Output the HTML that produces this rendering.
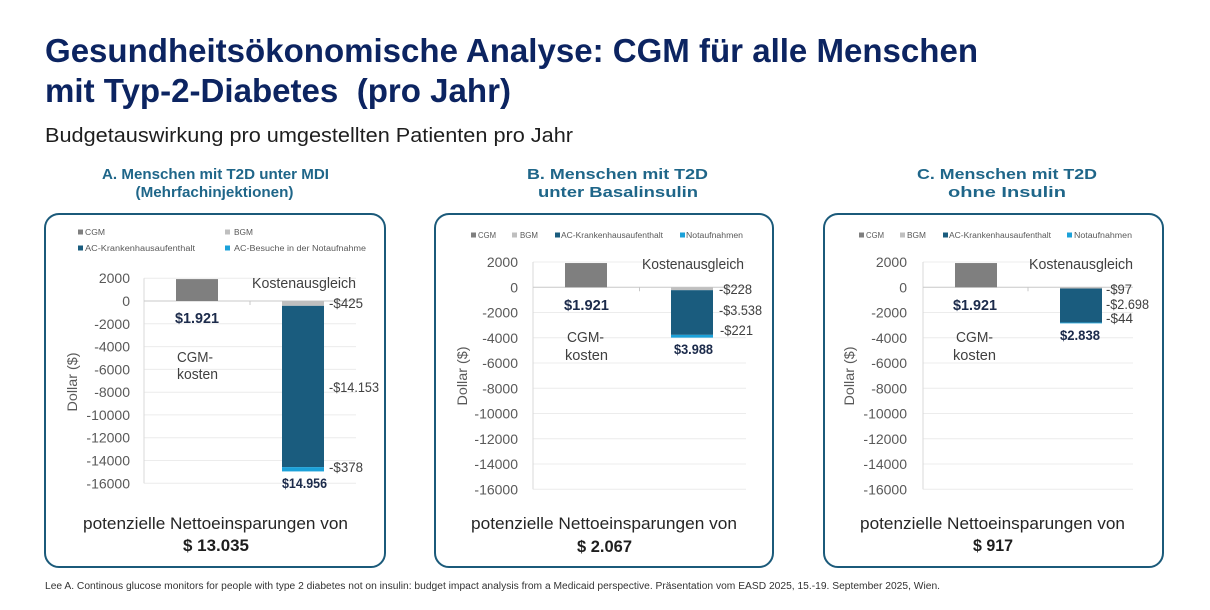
<!DOCTYPE html>
<html>
<head>
<meta charset="utf-8">
<style>
  html,body{margin:0;padding:0;background:#fff;}
  svg{display:block;}
  text{font-family:"Liberation Sans", sans-serif;}
</style>
</head>
<body>
<svg width="1210" height="610" viewBox="0 0 1210 610" xmlns="http://www.w3.org/2000/svg">
  <rect x="0" y="0" width="1210" height="610" fill="#ffffff"/>

  <!-- Titles -->
  <text x="45" y="62" font-size="33" font-weight="bold" fill="#0c2461" textLength="933" lengthAdjust="spacingAndGlyphs">Gesundheitsökonomische Analyse: CGM für alle Menschen</text>
  <text x="45" y="102" font-size="33" font-weight="bold" fill="#0c2461" textLength="466" lengthAdjust="spacingAndGlyphs" xml:space="preserve">mit Typ-2-Diabetes  (pro Jahr)</text>
  <text x="45" y="142" font-size="20" fill="#1e1e1e" textLength="528" lengthAdjust="spacingAndGlyphs">Budgetauswirkung pro umgestellten Patienten pro Jahr</text>

  <!-- Panel titles -->
  <g font-size="15" font-weight="bold" fill="#1f6689" text-anchor="middle">
    <text x="215.5" y="179" textLength="227" lengthAdjust="spacingAndGlyphs">A. Menschen mit T2D unter MDI</text>
    <text x="214.5" y="197" textLength="158" lengthAdjust="spacingAndGlyphs">(Mehrfachinjektionen)</text>
    <text x="617.5" y="179" textLength="181" lengthAdjust="spacingAndGlyphs">B. Menschen mit T2D</text>
    <text x="618" y="197" textLength="160" lengthAdjust="spacingAndGlyphs">unter Basalinsulin</text>
    <text x="1007" y="179" textLength="180" lengthAdjust="spacingAndGlyphs">C. Menschen mit T2D</text>
    <text x="1007" y="197" textLength="118" lengthAdjust="spacingAndGlyphs">ohne Insulin</text>
  </g>

  <!-- Boxes -->
  <rect x="45" y="214" width="340" height="353" rx="14" ry="14" fill="none" stroke="#1b5a7a" stroke-width="2"/>
  <rect x="435" y="214" width="338" height="353" rx="14" ry="14" fill="none" stroke="#1b5a7a" stroke-width="2"/>
  <rect x="824" y="214" width="339" height="353" rx="14" ry="14" fill="none" stroke="#1b5a7a" stroke-width="2"/>

  <!-- ================= PANEL A ================= -->
  <g font-size="8" fill="#595959">
    <rect x="78" y="229.5" width="5" height="5" fill="#7f7f7f"/>
    <text x="85" y="235" textLength="20" lengthAdjust="spacingAndGlyphs">CGM</text>
    <rect x="225" y="229.5" width="5" height="5" fill="#bfbfbf"/>
    <text x="234" y="235" textLength="19" lengthAdjust="spacingAndGlyphs">BGM</text>
    <rect x="78" y="245.5" width="5" height="5" fill="#1a5c7e"/>
    <text x="85" y="251" textLength="110" lengthAdjust="spacingAndGlyphs">AC-Krankenhausaufenthalt</text>
    <rect x="225" y="245.5" width="5" height="5" fill="#1ba1d9"/>
    <text x="234" y="251" textLength="132" lengthAdjust="spacingAndGlyphs">AC-Besuche in der Notaufnahme</text>
  </g>
  <g stroke="#ececec" stroke-width="1">
    <line x1="144" x2="356" y1="278.2" y2="278.2"/>
    <line x1="144" x2="356" y1="323.8" y2="323.8"/>
    <line x1="144" x2="356" y1="346.6" y2="346.6"/>
    <line x1="144" x2="356" y1="369.4" y2="369.4"/>
    <line x1="144" x2="356" y1="392.2" y2="392.2"/>
    <line x1="144" x2="356" y1="414.9" y2="414.9"/>
    <line x1="144" x2="356" y1="437.7" y2="437.7"/>
    <line x1="144" x2="356" y1="460.5" y2="460.5"/>
    <line x1="144" x2="356" y1="483.3" y2="483.3"/>
  </g>
  <line x1="144" x2="144" y1="278.2" y2="483.3" stroke="#d9d9d9" stroke-width="1"/>
  <line x1="144" x2="356" y1="301" y2="301" stroke="#c8c8c8" stroke-width="1"/>
  <line x1="250" x2="250" y1="301" y2="305" stroke="#c8c8c8" stroke-width="1"/>
  <g font-size="14" fill="#595959" text-anchor="end">
    <text x="130" y="283.2">2000</text>
    <text x="130" y="306">0</text>
    <text x="130" y="328.8">-2000</text>
    <text x="130" y="351.6">-4000</text>
    <text x="130" y="374.4">-6000</text>
    <text x="130" y="397.2">-8000</text>
    <text x="130" y="419.9">-10000</text>
    <text x="130" y="442.7">-12000</text>
    <text x="130" y="465.5">-14000</text>
    <text x="130" y="488.3">-16000</text>
  </g>
  <text x="0" y="0" font-size="14" fill="#595959" text-anchor="middle" transform="translate(77,382) rotate(-90)" textLength="59" lengthAdjust="spacingAndGlyphs">Dollar ($)</text>
  <rect x="176" y="279.1" width="42" height="21.9" fill="#7f7f7f"/>
  <rect x="282" y="301" width="42" height="4.84" fill="#bfbfbf"/>
  <rect x="282" y="305.84" width="42" height="161.27" fill="#1a5c7e"/>
  <rect x="282" y="467.11" width="42" height="4.31" fill="#1ba1d9"/>
  <text x="197" y="323" font-size="15" font-weight="bold" fill="#1c2b4b" text-anchor="middle" textLength="44" lengthAdjust="spacingAndGlyphs">$1.921</text>
  <g font-size="15" fill="#404040">
    <text x="195" y="362" text-anchor="middle" textLength="36" lengthAdjust="spacingAndGlyphs">CGM-</text>
    <text x="197.5" y="379" text-anchor="middle" textLength="41" lengthAdjust="spacingAndGlyphs">kosten</text>
    <text x="252" y="288" textLength="104" lengthAdjust="spacingAndGlyphs">Kostenausgleich</text>
  </g>
  <g font-size="14" fill="#404040">
    <text x="329" y="308" textLength="34" lengthAdjust="spacingAndGlyphs">-$425</text>
    <text x="329" y="392" textLength="50" lengthAdjust="spacingAndGlyphs">-$14.153</text>
    <text x="329" y="472" textLength="34" lengthAdjust="spacingAndGlyphs">-$378</text>
  </g>
  <text x="304.5" y="488" font-size="14" font-weight="bold" fill="#1c2b4b" text-anchor="middle" textLength="45" lengthAdjust="spacingAndGlyphs">$14.956</text>
  <text x="215.5" y="529" font-size="17" fill="#262626" text-anchor="middle" textLength="265" lengthAdjust="spacingAndGlyphs">potenzielle Nettoeinsparungen von</text>
  <text x="216" y="551" font-size="17" font-weight="bold" fill="#1e1e1e" text-anchor="middle" textLength="66" lengthAdjust="spacingAndGlyphs">$ 13.035</text>

  <!-- ================= PANEL B ================= -->
  <g font-size="8" fill="#595959">
    <rect x="471" y="232.5" width="5" height="5" fill="#7f7f7f"/>
    <text x="478" y="238" textLength="18" lengthAdjust="spacingAndGlyphs">CGM</text>
    <rect x="512" y="232.5" width="5" height="5" fill="#bfbfbf"/>
    <text x="520" y="238" textLength="18" lengthAdjust="spacingAndGlyphs">BGM</text>
    <rect x="555" y="232.5" width="5" height="5" fill="#1a5c7e"/>
    <text x="561" y="238" textLength="102" lengthAdjust="spacingAndGlyphs">AC-Krankenhausaufenthalt</text>
    <rect x="680" y="232.5" width="5" height="5" fill="#1ba1d9"/>
    <text x="686" y="238" textLength="57" lengthAdjust="spacingAndGlyphs">Notaufnahmen</text>
  </g>
  <g stroke="#ececec" stroke-width="1">
    <line x1="533" x2="746" y1="262.05" y2="262.05"/>
    <line x1="533" x2="746" y1="312.55" y2="312.55"/>
    <line x1="533" x2="746" y1="337.8" y2="337.8"/>
    <line x1="533" x2="746" y1="363.05" y2="363.05"/>
    <line x1="533" x2="746" y1="388.3" y2="388.3"/>
    <line x1="533" x2="746" y1="413.55" y2="413.55"/>
    <line x1="533" x2="746" y1="438.8" y2="438.8"/>
    <line x1="533" x2="746" y1="464.05" y2="464.05"/>
    <line x1="533" x2="746" y1="489.3" y2="489.3"/>
  </g>
  <line x1="533" x2="533" y1="262.05" y2="489.3" stroke="#d9d9d9" stroke-width="1"/>
  <line x1="533" x2="746" y1="287.3" y2="287.3" stroke="#c8c8c8" stroke-width="1"/>
  <line x1="639.5" x2="639.5" y1="287.3" y2="291.3" stroke="#c8c8c8" stroke-width="1"/>
  <g font-size="14" fill="#595959" text-anchor="end">
    <text x="518" y="267">2000</text>
    <text x="518" y="292.3">0</text>
    <text x="518" y="317.5">-2000</text>
    <text x="518" y="342.8">-4000</text>
    <text x="518" y="368">-6000</text>
    <text x="518" y="393.3">-8000</text>
    <text x="518" y="418.5">-10000</text>
    <text x="518" y="443.8">-12000</text>
    <text x="518" y="469">-14000</text>
    <text x="518" y="494.3">-16000</text>
  </g>
  <text x="0" y="0" font-size="14" fill="#595959" text-anchor="middle" transform="translate(467,376) rotate(-90)" textLength="59" lengthAdjust="spacingAndGlyphs">Dollar ($)</text>
  <rect x="565" y="263.05" width="42" height="24.25" fill="#7f7f7f"/>
  <rect x="671" y="287.3" width="42" height="2.88" fill="#bfbfbf"/>
  <rect x="671" y="290.18" width="42" height="44.67" fill="#1a5c7e"/>
  <rect x="671" y="334.85" width="42" height="2.79" fill="#1ba1d9"/>
  <text x="586.5" y="310" font-size="15" font-weight="bold" fill="#1c2b4b" text-anchor="middle" textLength="45" lengthAdjust="spacingAndGlyphs">$1.921</text>
  <g font-size="15" fill="#404040">
    <text x="585.5" y="342" text-anchor="middle" textLength="37" lengthAdjust="spacingAndGlyphs">CGM-</text>
    <text x="586.5" y="360" text-anchor="middle" textLength="43" lengthAdjust="spacingAndGlyphs">kosten</text>
    <text x="642" y="269" textLength="102" lengthAdjust="spacingAndGlyphs">Kostenausgleich</text>
  </g>
  <g font-size="14" fill="#404040">
    <text x="719" y="294" textLength="33" lengthAdjust="spacingAndGlyphs">-$228</text>
    <text x="719" y="315" textLength="43" lengthAdjust="spacingAndGlyphs">-$3.538</text>
    <text x="720" y="335" textLength="33" lengthAdjust="spacingAndGlyphs">-$221</text>
  </g>
  <text x="693.5" y="354" font-size="14" font-weight="bold" fill="#1c2b4b" text-anchor="middle" textLength="39" lengthAdjust="spacingAndGlyphs">$3.988</text>
  <text x="604" y="529" font-size="17" fill="#262626" text-anchor="middle" textLength="266" lengthAdjust="spacingAndGlyphs">potenzielle Nettoeinsparungen von</text>
  <text x="604.5" y="552" font-size="17" font-weight="bold" fill="#1e1e1e" text-anchor="middle" textLength="55" lengthAdjust="spacingAndGlyphs">$ 2.067</text>

  <!-- ================= PANEL C ================= -->
  <g font-size="8" fill="#595959">
    <rect x="859" y="232.5" width="5" height="5" fill="#7f7f7f"/>
    <text x="866" y="238" textLength="18" lengthAdjust="spacingAndGlyphs">CGM</text>
    <rect x="900" y="232.5" width="5" height="5" fill="#bfbfbf"/>
    <text x="907" y="238" textLength="19" lengthAdjust="spacingAndGlyphs">BGM</text>
    <rect x="943" y="232.5" width="5" height="5" fill="#1a5c7e"/>
    <text x="949" y="238" textLength="102" lengthAdjust="spacingAndGlyphs">AC-Krankenhausaufenthalt</text>
    <rect x="1067" y="232.5" width="5" height="5" fill="#1ba1d9"/>
    <text x="1074" y="238" textLength="58" lengthAdjust="spacingAndGlyphs">Notaufnahmen</text>
  </g>
  <g stroke="#ececec" stroke-width="1">
    <line x1="923" x2="1133" y1="262.05" y2="262.05"/>
    <line x1="923" x2="1133" y1="312.55" y2="312.55"/>
    <line x1="923" x2="1133" y1="337.8" y2="337.8"/>
    <line x1="923" x2="1133" y1="363.05" y2="363.05"/>
    <line x1="923" x2="1133" y1="388.3" y2="388.3"/>
    <line x1="923" x2="1133" y1="413.55" y2="413.55"/>
    <line x1="923" x2="1133" y1="438.8" y2="438.8"/>
    <line x1="923" x2="1133" y1="464.05" y2="464.05"/>
    <line x1="923" x2="1133" y1="489.3" y2="489.3"/>
  </g>
  <line x1="923" x2="923" y1="262.05" y2="489.3" stroke="#d9d9d9" stroke-width="1"/>
  <line x1="923" x2="1133" y1="287.3" y2="287.3" stroke="#c8c8c8" stroke-width="1"/>
  <line x1="1028" x2="1028" y1="287.3" y2="291.3" stroke="#c8c8c8" stroke-width="1"/>
  <g font-size="14" fill="#595959" text-anchor="end">
    <text x="907" y="267">2000</text>
    <text x="907" y="292.3">0</text>
    <text x="907" y="317.5">-2000</text>
    <text x="907" y="342.8">-4000</text>
    <text x="907" y="368">-6000</text>
    <text x="907" y="393.3">-8000</text>
    <text x="907" y="418.5">-10000</text>
    <text x="907" y="443.8">-12000</text>
    <text x="907" y="469">-14000</text>
    <text x="907" y="494.3">-16000</text>
  </g>
  <text x="0" y="0" font-size="14" fill="#595959" text-anchor="middle" transform="translate(854,376) rotate(-90)" textLength="59" lengthAdjust="spacingAndGlyphs">Dollar ($)</text>
  <rect x="955" y="263.05" width="42" height="24.25" fill="#7f7f7f"/>
  <rect x="1060" y="287.3" width="42" height="1.22" fill="#bfbfbf"/>
  <rect x="1060" y="288.52" width="42" height="34.06" fill="#1a5c7e"/>
  <rect x="1060" y="322.58" width="42" height="0.8" fill="#1ba1d9"/>
  <text x="975" y="310" font-size="15" font-weight="bold" fill="#1c2b4b" text-anchor="middle" textLength="44" lengthAdjust="spacingAndGlyphs">$1.921</text>
  <g font-size="15" fill="#404040">
    <text x="974.5" y="342" text-anchor="middle" textLength="37" lengthAdjust="spacingAndGlyphs">CGM-</text>
    <text x="974.5" y="360" text-anchor="middle" textLength="43" lengthAdjust="spacingAndGlyphs">kosten</text>
    <text x="1029" y="269" textLength="104" lengthAdjust="spacingAndGlyphs">Kostenausgleich</text>
  </g>
  <g font-size="14" fill="#404040">
    <text x="1106" y="294" textLength="26" lengthAdjust="spacingAndGlyphs">-$97</text>
    <text x="1106" y="309" textLength="43" lengthAdjust="spacingAndGlyphs">-$2.698</text>
    <text x="1106" y="323" textLength="27" lengthAdjust="spacingAndGlyphs">-$44</text>
  </g>
  <text x="1080" y="340" font-size="14" font-weight="bold" fill="#1c2b4b" text-anchor="middle" textLength="40" lengthAdjust="spacingAndGlyphs">$2.838</text>
  <text x="992.5" y="529" font-size="17" fill="#262626" text-anchor="middle" textLength="265" lengthAdjust="spacingAndGlyphs">potenzielle Nettoeinsparungen von</text>
  <text x="993" y="551" font-size="17" font-weight="bold" fill="#1e1e1e" text-anchor="middle" textLength="40" lengthAdjust="spacingAndGlyphs">$ 917</text>

  <!-- Footnote -->
  <text x="45" y="589" font-size="10" fill="#333333" textLength="895" lengthAdjust="spacingAndGlyphs">Lee A. Continous glucose monitors for people with type 2 diabetes not on insulin: budget impact analysis from a Medicaid perspective. Präsentation vom EASD 2025, 15.-19. September 2025, Wien.</text>
</svg>
</body>
</html>
